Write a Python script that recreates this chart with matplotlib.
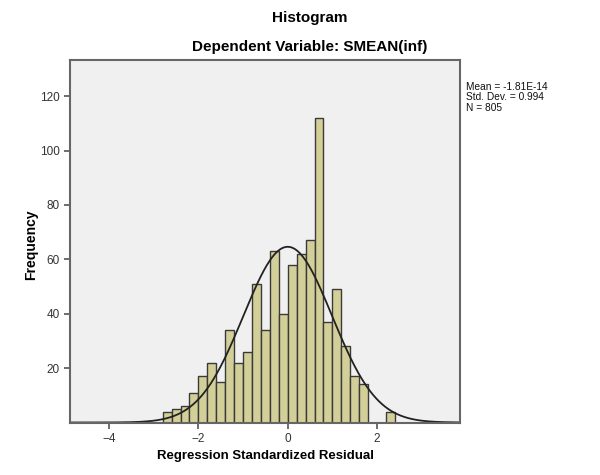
import numpy as np
import matplotlib
matplotlib.use("Agg")
import matplotlib.pyplot as plt

plt.rcParams["font.family"] = ["Liberation Sans", "DejaVu Sans"]

# histogram of residuals
bin_start = -2.8
bin_width = 0.2
counts = [4, 5, 6, 11, 17, 22, 15, 34, 22, 26, 51, 34, 63, 40, 58, 62,
          67, 112, 37, 49, 28, 17, 14, 0, 0, 4]
mean = -1.81e-14
std_dev = 0.994
n = 805
y_ticks = [20, 40, 60, 80, 100, 120]
x_ticks = [-4, -2, 0, 2]

edges = bin_start + bin_width * np.arange(len(counts))

fig = plt.figure(figsize=(6, 4.75), dpi=100)
ax = fig.add_axes([0.1167, 0.1105, 0.65, 0.7632])
ax.set_facecolor("#f0f0f0")

ax.bar(edges, counts, width=bin_width, align="edge",
       color="#d3cf98", edgecolor="#3a3a3a", linewidth=1.0)

xs = np.linspace(-4.9, 3.9, 400)
curve = n * bin_width / (std_dev * np.sqrt(2 * np.pi)) * np.exp(-0.5 * ((xs - mean) / std_dev) ** 2)
ax.plot(xs, curve, color="#222222", linewidth=1.3)

ax.set_xlim(-4.876, 3.859)
ax.set_ylim(0, 133.3)
ax.set_yticks(y_ticks)
ax.set_xticks(x_ticks)
ax.tick_params(axis="both", direction="out", length=4, width=1.2,
               colors="#555555", labelcolor="#333333", labelsize=8.5)
for s in ax.spines.values():
    s.set_color("#666666")
    s.set_linewidth(1.5)

ax.set_ylabel("Frequency", fontsize=10, fontweight="bold")
ax.yaxis.set_label_coords(-0.082, 0.49)
ax.set_xlabel("Regression Standardized Residual", fontsize=9.5, fontweight="bold")

fig.text(0.516, 0.962, "Histogram", ha="center", va="center",
         fontsize=11, fontweight="bold")
fig.text(0.516, 0.901, "Dependent Variable: SMEAN(inf)", ha="center", va="center",
         fontsize=11, fontweight="bold")

fig.text(0.776, 0.828,
         "Mean = -1.81E-14\nStd. Dev. = 0.994\nN = 805",
         ha="left", va="top", fontsize=7.3, linespacing=1.05,
         color="#111111")

fig.savefig("out.png", dpi=100)
